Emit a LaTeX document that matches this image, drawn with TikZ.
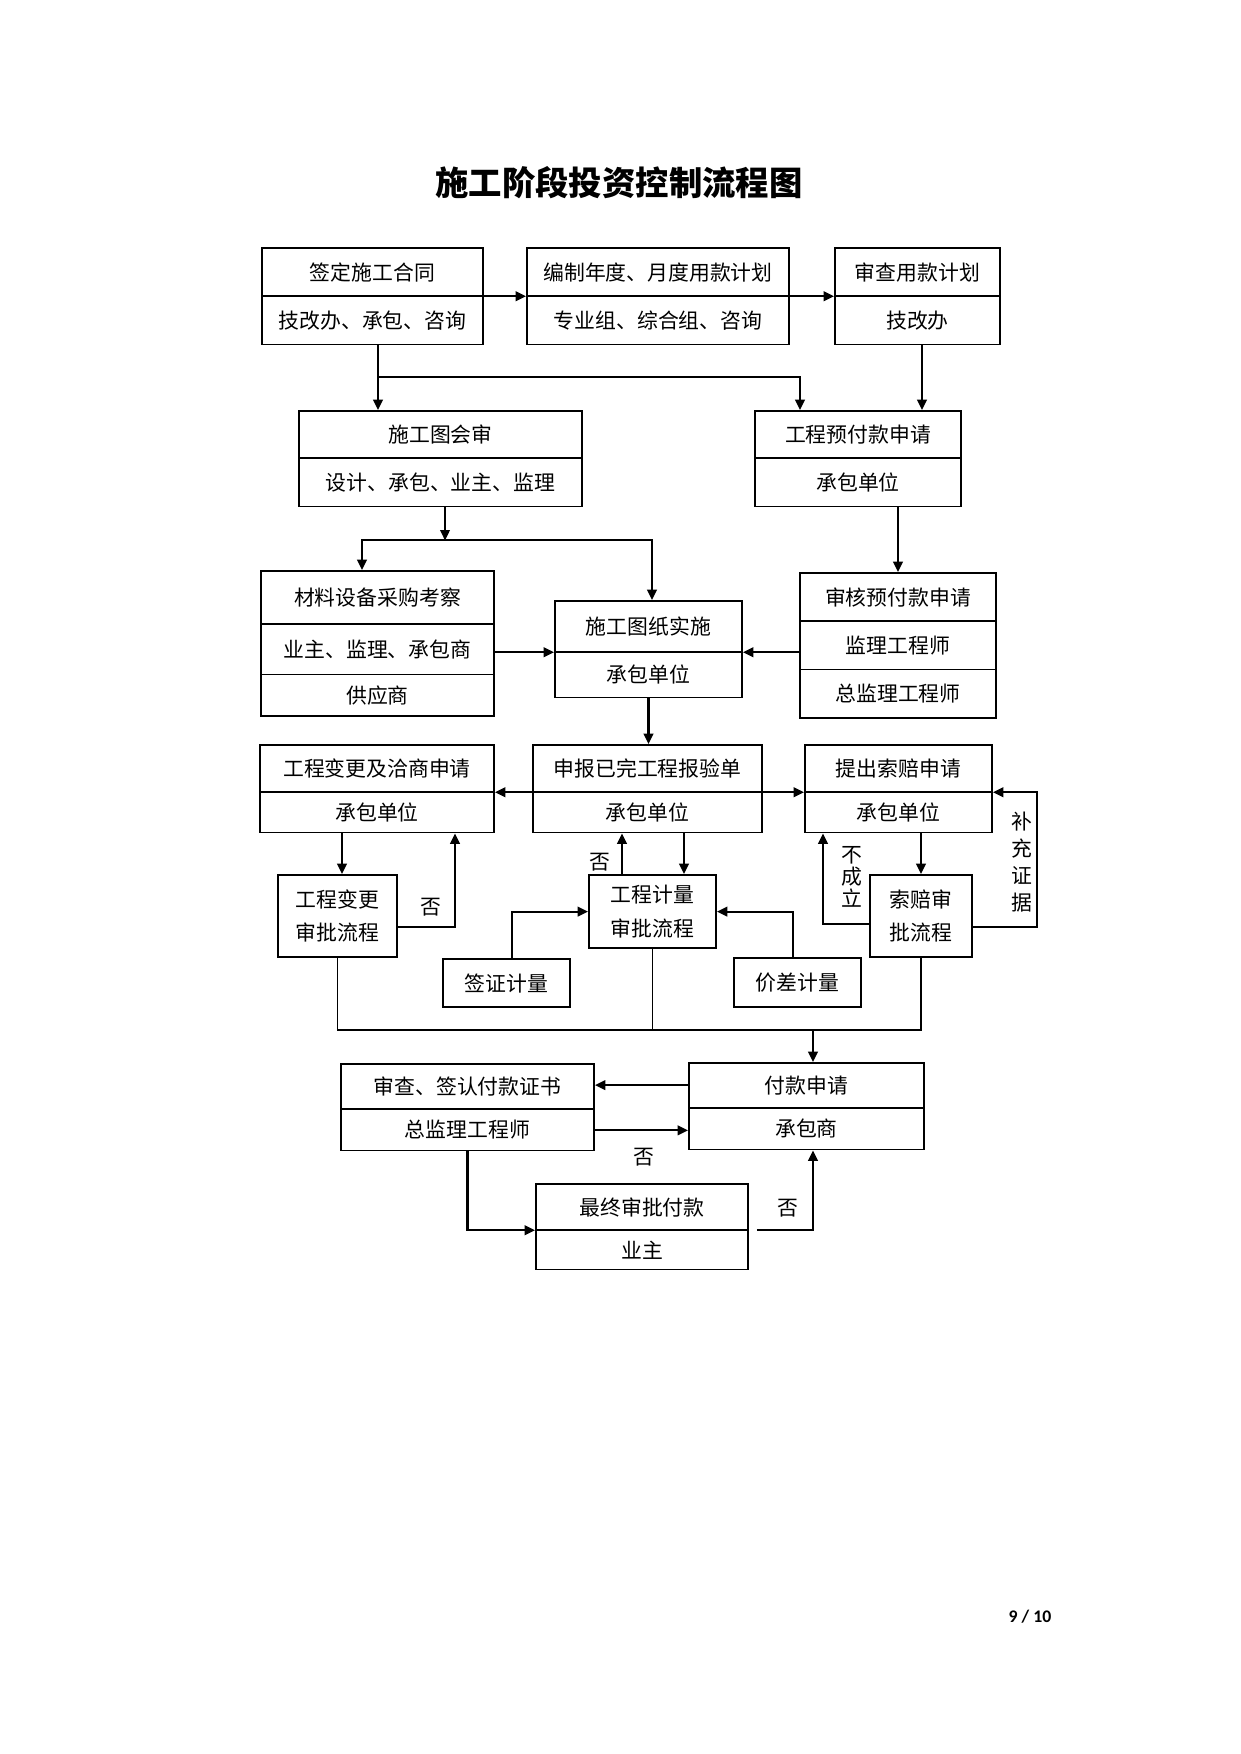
\documentclass[tikz,border=0pt]{standalone}
\usepackage{fontspec}
\setmainfont{Liberation Serif}
\newfontfamily\cjk{Noto Sans CJK SC}
\newfontfamily\pagefont{Carlito}
\usetikzlibrary{calc,arrows.meta,shapes.multipart}
\newlength\unitpx
\setlength\unitpx{0.4797pt}
\def\cell#1#2#3{\parbox[c][\dimexpr#2\unitpx-2.6\unitpx\relax][c]{#1\unitpx}{\centering #3}}

\begin{document}
\begin{tikzpicture}[x=0.4797pt, y=-0.4797pt,
	stage/.style={draw, line width=0.9pt, rectangle split, rectangle split parts=#1, inner sep=0pt, anchor=north, font=\cjk\fontsize{10}{16}\selectfont},
	stage/.default=2,
	flow/.style={line width=1pt, -{Triangle[length=5pt,width=4.6pt]}},
	joint/.style={line width=0.5pt},
	note/.style={font=\cjk\fontsize{10}{12}\selectfont, align=center, inner sep=0pt}]
			%%%%% START %%%%%
			
			\useasboundingbox (0, 0) rectangle (1241, 1754);
			
			\node[font=\cjk\bfseries\fontsize{16}{18}\selectfont] (title) at (619, 183) {施工阶段投资控制流程图};
			
			\node[stage] (sign) at (372.5, 247) {\cell{221}{49}{签定施工合同}\nodepart{two}\cell{221}{49}{技改办、承包、咨询}};
			\node[stage] (plan) at (658, 247) {\cell{262}{49}{编制年度、月度用款计划}\nodepart{two}\cell{262}{49}{专业组、综合组、咨询}};
			\node[stage] (audit) at (917.5, 247) {\cell{165}{49}{审查用款计划}\nodepart{two}\cell{165}{49}{技改办}};
			
			\node[stage] (review) at (440.5, 410) {\cell{283}{48}{施工图会审}\nodepart{two}\cell{283}{49}{设计、承包、业主、监理}};
			\node[stage] (advance) at (858, 410) {\cell{206}{48}{工程预付款申请}\nodepart{two}\cell{206}{49}{承包单位}};
			
			\node[stage=3] (purchase) at (377.5, 570) {\cell{233}{54}{材料设备采购考察}\nodepart{two}\cell{233}{51}{业主、监理、承包商}\nodepart{three}\cell{233}{42}{供应商}};
			\node[stage] (build) at (648.5, 600) {\cell{187}{52}{施工图纸实施}\nodepart{two}\cell{187}{46}{承包单位}};
			\node[stage=3] (verify) at (898, 572) {\cell{196}{49}{审核预付款申请}\nodepart{two}\cell{196}{49}{监理工程师}\nodepart{three}\cell{196}{49}{总监理工程师}};
			
			\node[stage] (change) at (377, 744) {\cell{234}{48}{工程变更及洽商申请}\nodepart{two}\cell{234}{41}{承包单位}};
			\node[stage] (report) at (647.5, 744) {\cell{229}{48}{申报已完工程报验单}\nodepart{two}\cell{229}{41}{承包单位}};
			\node[stage] (claim) at (898.5, 744) {\cell{187}{48}{提出索赔申请}\nodepart{two}\cell{187}{41}{承包单位}};
			
			\node[stage=1] (changeflow) at (337.5, 874) {\cell{119}{83}{工程变更\\审批流程}};
			\node[stage=1] (measure) at (652.5, 874) {\cell{127}{74}{工程计量\\审批流程}};
			\node[stage=1] (claimflow) at (921, 874) {\cell{102}{83}{索赔审\\批流程}};
			\node[stage=1] (visa) at (506.5, 958) {\cell{127}{49}{签证计量}};
			\node[stage=1] (price) at (797.5, 957) {\cell{127}{50}{价差计量}};
			
			\node[stage] (certify) at (467.5, 1063) {\cell{253}{46}{审查、签认付款证书}\nodepart{two}\cell{253}{42}{总监理工程师}};
			\node[stage] (payreq) at (806.5, 1062) {\cell{235}{46}{付款申请}\nodepart{two}\cell{235}{42}{承包商}};
			\node[stage] (final) at (642, 1183) {\cell{212}{47}{最终审批付款}\nodepart{two}\cell{212}{40}{业主}};
			
			\draw[flow] (sign.text split east) -- (plan.text split west);
			\draw[flow] (plan.text split east) -- (audit.text split west);
			\draw[flow] ($(sign.south)+(5.5, 0)$) coordinate (s1) -- (s1 |- review.north);
			\draw[flow] ($(sign.south)+(5.5, 32)$) -| ($(advance.north)+(-58, 0)$);
			\draw[flow] ($(audit.south)+(4.5, 0)$) coordinate (a1) -- (a1 |- advance.north);
			
			\coordinate (fork) at ($(review.south)+(4.5, 33)$);
			\draw[flow] (fork |- review.south) -- (fork);
			\draw[flow] (fork) -| ($(purchase.north)+(-15.5, 0)$);
			\draw[flow] (fork) -| ($(build.north)+(3.5, 0)$);
			\draw[flow] (advance.south -| verify.north) -- (verify.north);
			\draw[flow] (purchase.east |- build.text split) -- (build.text split west);
			\draw[flow] (verify.west |- build.text split) -- (build.text split east);
			\draw[flow] (build.south) -- (build.south |- report.north);
			
			\draw[flow] (report.text split west) -- (change.text split east);
			\draw[flow] (report.text split east) -- (claim.text split west);
			\draw[flow] ($(changeflow.north)+(4.5, 0)$) coordinate (c1) (c1 |- change.south) -- (c1);
			\draw[flow] ($(changeflow.east)+(0, 10.5)$) -| ($(change.south)+(78, 0)$);
			\node[note] (no1) at (431, 907) {否};
			
			\draw[flow] ($(measure.north)+(-30.5, 0)$) coordinate (m1) -- (m1 |- report.south);
			\draw[flow] ($(measure.north)+(31.5, 0)$) coordinate (m2) (m2 |- report.south) -- (m2);
			\node[note] (no2) at (600, 862) {否};
			\draw[flow] ($(visa.north)+(5.5, 0)$) |- (measure.west);
			\draw[flow] ($(price.north)+(-4.5, 0)$) |- (measure.east);
			
			\draw[flow] (claimflow.north |- claim.south) -- (claimflow.north);
			\draw[flow] ($(claimflow.west)+(0, 7.5)$) -| ($(claim.south)+(-75.5, 0)$);
			\node[note, font=\cjk\fontsize{10}{10.5}\selectfont] (fail) at (852, 877) {不\\成\\立};
			\draw[flow] ($(claimflow.east)+(0, 10.5)$) -- ++(64, 0) |- (claim.text split east);
			\node[note, font=\cjk\fontsize{10}{13}\selectfont] (evid) at (1022, 862) {补\\充\\证\\据};
			
			\coordinate (merge) at (813, 1030);
			\draw[joint] (changeflow.south) |- (merge) -| (claimflow.south);
			\draw[joint] (measure.south) -- (measure.south |- merge);
			\draw[flow] (merge) -- (merge |- payreq.north);
			
			\draw[flow] ($(payreq.north west)!0.5!(payreq.text split west)$) coordinate (p1) -- (p1 -| certify.east);
			\draw[flow] ($(certify.text split east)!0.5!(certify.south east)$) coordinate (p2) -- (p2 -| payreq.west);
			\node[note] (no3) at (644, 1157) {否};
			\draw[flow] (certify.south) |- (final.text split west);
			\draw[flow] ($(final.text split east)+(8, 0)$) -| ($(payreq.south)+(6.5, 0)$);
			\node[note] (no4) at (788, 1208) {否};
			
			\node[font=\pagefont\bfseries\fontsize{8.5}{10}\selectfont] (page) at (1030, 1617) {9 / 10};
			
			%%%%% END %%%%%
		\end{tikzpicture}
\end{document}
